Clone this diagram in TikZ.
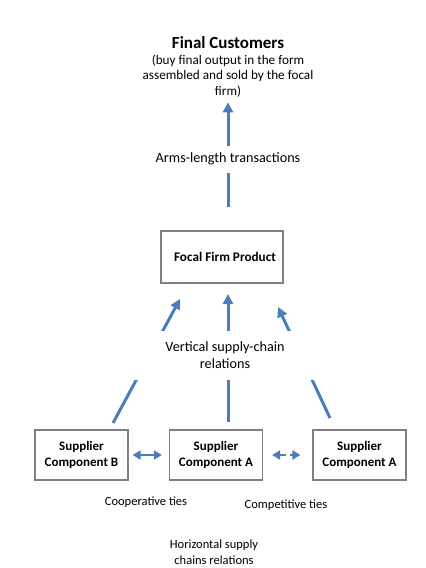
\documentclass[tikz,border=0pt]{standalone}
\usepackage{fontspec}
\setmainfont{Carlito}
\usetikzlibrary{arrows.meta,positioning}
\definecolor{linkblue}{RGB}{74,126,187}
\definecolor{boxgray}{RGB}{128,128,128}
\begin{document}
\begin{tikzpicture}[
  x=1pt,y=-1pt,
  font=\fontsize{12.5}{16}\selectfont,
  box/.style={draw=boxgray,line width=1.2pt,align=center,minimum width=93pt,minimum height=50pt,font=\fontsize{13}{16.5}\selectfont\bfseries},
  varrow/.style={-{Triangle[length=10pt,width=10pt]},line width=3pt,draw=linkblue},
  harrow/.style={{Triangle[length=8pt,width=9pt]}-{Triangle[length=8pt,width=9pt]},line width=2.5pt,draw=linkblue},
  lbl/.style={fill=white,align=center,inner sep=0pt,font=\fontsize{14.2}{17}\selectfont}
]
\useasboundingbox (0,0) rectangle (426,568);

% nodes
\node[align=center,inner sep=0pt,font=\fontsize{13.2}{15.5}\selectfont] (customers) at (228,67) {{\fontsize{17}{19}\selectfont\bfseries Final Customers}\\(buy final output in the form\\assembled and sold by the focal\\firm)};
\node[box,minimum width=122pt,minimum height=52pt,font=\fontsize{13.2}{16.5}\selectfont\bfseries] (focal) at (222,257) {\hspace*{6pt}Focal Firm Product};
\node[box] (supB) at (81.5,455) {Supplier\\Component B};
\node[box] (supA) at (216,455) {Supplier\\Component A};
\node[box] (supC) at (359.5,455) {Supplier\\Component A};

% arrow ends
\coordinate (tipB) at (180,299);
\coordinate (tipA) at (228,294);
\coordinate (tipC) at (278,307);
\coordinate (footB) at (113,423);
\coordinate (footA) at (228,422);
\coordinate (footC) at (330,418);

% arrows
\draw[varrow,shorten <=23pt,shorten >=5pt] (focal.north -| customers) -- (customers.south);
\draw[varrow] (footB) -- (tipB);
\draw[varrow] (footA) -- (tipA);
\draw[varrow] (footC) -- (tipC);
\draw[harrow,shorten <=4pt,shorten >=7pt] (supB) -- (supA);
\draw[harrow,dash pattern=on 6pt off 4pt,shorten <=9pt,shorten >=12pt] (supA) -- (supC);

% labels
\node[lbl,minimum width=160pt,minimum height=27pt] (arms) at (228,159) {Arms-length transactions};
\node[lbl,minimum width=180pt,minimum height=49pt] (vertical) at (225,355) {Vertical supply-chain\\relations};
\node (coop) at (146,502) {Cooperative ties};
\node (comp) at (286,505) {Competitive ties};
\node[align=center] (horiz) at (214,552) {Horizontal supply\\chains relations};
\end{tikzpicture}
\end{document}
